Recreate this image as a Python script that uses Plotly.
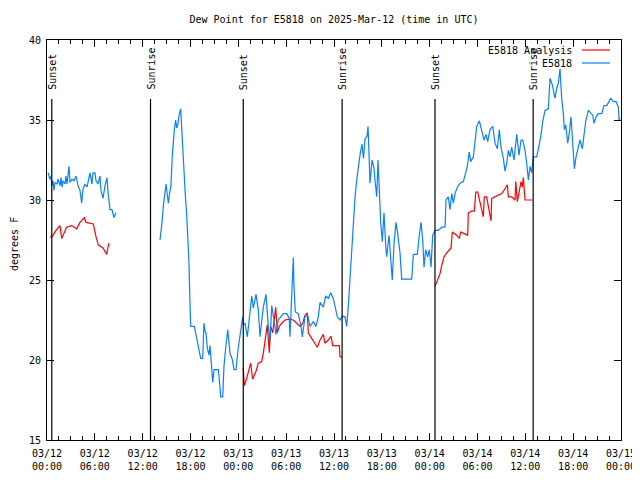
import pandas as pd
import plotly.graph_objects as go

BASE = pd.Timestamp("2025-03-12 00:00")

# E5818 observations: hours since 03/12 00:00 and dew point (F), in contiguous segments
obs_h1 = [0.13, 0.38, 0.50, 0.63, 0.75, 0.88, 1.00, 1.25, 1.38, 1.63, 1.76, 1.88, 2.01, 2.26, 2.38,
          2.51, 2.76, 2.88, 3.14, 3.39, 3.64, 3.89, 4.14, 4.35, 4.52, 4.77, 5.02, 5.27, 5.39, 5.64,
          5.77, 6.02, 6.15, 6.40, 6.65, 6.77, 7.02, 7.28, 7.53, 7.65, 7.90, 8.15, 8.40, 8.65]
obs_v1 = [31.7, 31.3, 31.5, 30.9, 31.2, 30.6, 31.1, 31.0, 31.3, 30.9, 31.4, 30.8, 31.2, 31.0, 31.5,
          31.0, 32.1, 31.1, 31.3, 31.2, 31.5, 30.9, 30.6, 29.8, 30.7, 31.0, 30.8, 31.3, 31.7, 31.0,
          31.7, 31.7, 31.2, 31.0, 31.5, 30.6, 30.1, 30.9, 31.4, 30.5, 29.4, 29.4, 28.9, 29.2]

obs_h2 = [14.17, 14.30, 14.43, 14.59, 14.74, 14.93, 15.05, 15.22, 15.37, 15.55, 15.72, 15.84, 15.97,
          16.14, 16.27, 16.40, 16.50, 16.60, 16.77, 16.90, 17.02, 17.19, 17.35, 17.52, 17.65, 17.81,
          17.94, 18.03, 18.48, 18.78, 19.07, 19.28, 19.53, 19.69, 19.82, 19.94, 20.11, 20.32, 20.45,
          20.66, 20.79, 20.95, 21.49, 21.70, 21.79, 22.04, 22.20, 22.42, 22.67, 22.96, 23.21, 23.46,
          23.71, 24.00, 24.34, 24.55, 24.65, 24.84, 25.13, 25.38, 25.46, 25.68, 25.88, 26.22, 26.51,
          26.72, 27.13, 27.47, 27.76, 27.97, 28.19, 28.51, 28.73, 29.01, 29.64, 30.07, 30.39, 30.48,
          30.70, 30.90, 30.98, 31.15, 31.52, 31.86, 32.03, 32.36, 32.70, 32.99, 33.41, 33.74, 34.03,
          34.25, 34.66, 34.96, 35.29, 35.59, 35.91, 36.21, 36.42, 36.75, 37.04, 37.38, 37.59, 37.80,
          38.01, 38.35, 38.64, 38.85, 39.01, 39.26, 39.51, 39.70, 39.89, 40.14, 40.27, 40.39, 40.52,
          40.77, 41.02, 41.14, 41.36, 41.52, 41.86, 42.06, 42.27, 42.49, 42.61, 42.90, 43.24, 43.31,
          43.53, 43.78, 43.99, 44.28, 44.49, 45.75, 45.95, 46.45, 46.70, 46.91, 47.13, 47.29, 47.50,
          47.75, 47.96, 48.17, 48.38, 48.67, 49.09, 49.51, 49.93, 50.05, 50.34, 50.55, 50.77, 50.97,
          51.18, 51.47, 51.81, 52.22, 52.52, 52.72, 52.97, 53.15, 53.48, 53.69, 53.90, 54.23, 54.53,
          54.82, 55.07, 55.28, 55.57, 55.91, 56.20, 56.49, 56.74, 56.95, 57.24, 57.45, 57.67, 57.87,
          58.08, 58.29, 58.58, 58.92, 59.21, 59.46, 59.67, 59.96, 60.17, 60.38, 60.59, 60.80, 61.00,
          61.43, 61.93, 62.18, 62.47, 62.88, 63.10, 63.39, 63.72, 63.94, 64.14, 64.35, 64.56, 64.77,
          64.89, 65.07, 65.32, 65.52, 65.73, 65.94, 66.15, 66.36, 66.65, 66.86, 67.15, 67.36, 67.57,
          67.90, 68.20, 68.45, 68.62, 68.87, 69.16, 69.58, 69.87, 70.21, 70.71, 71.04, 71.38, 71.67,
          71.75, 71.88]
obs_v2 = [27.5, 28.0, 28.6, 29.6, 30.3, 31.0, 30.5, 29.8, 30.4, 30.9, 32.8, 33.8, 34.4,
          35.0, 34.5, 34.7, 35.1, 35.4, 35.7, 34.3, 33.0, 31.7, 30.3, 29.1, 27.6, 26.1,
          23.4, 22.1, 22.1, 21.25, 20.6, 20.1, 20.1, 22.3, 21.8, 21.7, 20.75, 20.3, 20.9,
          19.6, 18.6, 19.4, 19.4, 18.3, 17.7, 17.7, 19.6, 20.8, 21.9, 20.4, 20.1, 19.4,
          19.4, 20.8, 22.1, 22.7, 22.2, 22.3, 21.45, 22.5, 22.8, 24.0, 23.25, 24.1, 23.1,
          21.45, 23.3, 24.1, 22.1, 21.1, 23.4, 22.3, 21.6, 22.5, 22.9, 22.9, 22.6, 21.45,
          24.8, 26.4, 24.6, 23.0, 22.9, 22.1, 21.45, 22.7, 22.8, 22.1, 22.4, 22.1, 22.7,
          23.6, 23.3, 24.0, 23.85, 24.2, 23.85, 23.1, 22.7, 22.5, 22.75, 22.7, 22.1, 23.4,
          25.3, 28.1, 30.2, 31.25, 31.9, 32.8, 33.5, 32.6, 33.8, 34.0, 34.6, 33.0, 31.05,
          32.5, 32.0, 31.25, 30.2, 32.5, 28.6, 27.4, 29.2, 27.1, 26.45, 27.8, 25.75, 25.0,
          27.3, 28.6, 27.9, 26.7, 25.06, 25.06, 26.6, 26.6, 27.8, 28.6, 27.5, 25.8, 26.9,
          26.45, 26.9, 25.8, 27.8, 28.1, 28.1, 28.3, 28.3, 30.0, 30.2, 29.4, 30.4, 29.8,
          30.4, 30.8, 31.05, 31.15, 31.7, 32.1, 33.0, 32.4, 32.7, 33.75, 34.6, 34.95, 34.4,
          33.75, 34.1, 33.65, 34.4, 34.6, 33.55, 33.2, 34.4, 33.3, 32.6, 31.8, 32.3, 33.1,
          32.7, 33.3, 32.5, 34.1, 32.8, 33.75, 33.75, 33.1, 32.3, 31.25, 32.1, 31.7, 32.7,
          32.7, 33.95, 34.9, 35.6, 35.7, 37.6, 37.2, 36.35, 37.0, 37.3, 38.2, 36.35, 35.4,
          34.4, 34.7, 33.55, 34.2, 35.2, 33.75, 31.95, 32.7, 33.3, 33.75, 33.2, 34.2, 34.9,
          35.6, 35.4, 35.3, 34.8, 35.2, 35.4, 35.4, 35.9, 35.9, 36.35, 36.15, 36.15, 35.8,
          35.0, 35.1]

# E5818 Analysis
ana_h1 = [0.38, 0.63, 1.13, 1.63, 1.84, 2.47, 3.10, 3.73, 4.14, 4.68, 4.89, 5.81, 6.15, 6.44,
          7.02, 7.49, 7.59, 7.78]
ana_v1 = [27.7, 27.7, 28.1, 28.4, 27.6, 28.3, 28.4, 28.2, 28.6, 28.9, 28.6, 28.5, 27.7, 27.2,
          27.0, 26.6, 26.9, 27.3]
ana_h2 = [24.62, 24.75, 25.05, 25.25, 25.55, 25.80, 26.22, 26.51, 26.93, 27.13, 27.35, 27.63,
          27.89, 28.06, 28.31, 28.48, 28.69, 28.89, 29.14, 29.44, 29.86, 30.39, 30.90, 31.32,
          31.74, 32.08, 32.36, 32.65, 32.78, 33.20, 33.91, 34.25, 34.66, 34.87, 35.29, 35.63,
          35.84, 36.67, 36.75, 36.97]
ana_v2 = [19.5, 18.4, 18.85, 19.3, 19.8, 18.8, 19.3, 19.8, 19.9, 20.4, 21.25, 22.2,
          20.45, 22.1, 21.7, 22.4, 23.3, 21.7, 22.1, 22.3, 22.5, 22.55, 22.5, 22.3,
          22.1, 22.3, 22.8, 22.95, 21.7, 21.35, 20.8, 21.25, 21.6, 21.05, 21.25, 21.5,
          20.9, 20.9, 20.2, 20.2]
ana_h3 = [48.67, 49.09, 49.30, 49.51, 49.80, 50.14, 50.68, 50.84, 51.39, 51.72, 51.90, 52.35,
          52.77, 52.85, 53.27, 53.60, 53.78, 54.03, 54.32, 54.57, 54.73, 54.86, 55.16, 55.36,
          55.57, 55.70, 55.78, 56.20, 56.61, 57.04, 57.45, 57.74, 57.87, 58.29, 58.71, 58.80,
          59.00, 59.21, 59.46, 59.62, 59.75, 59.96, 60.38, 60.93]
ana_v3 = [24.6, 25.1, 25.4, 25.9, 26.45, 26.7, 27.0, 28.0, 27.8, 27.6, 28.0, 27.9,
          27.8, 29.2, 29.3, 29.3, 30.5, 30.5, 29.9, 29.3, 28.95, 30.2, 30.2, 29.6,
          28.95, 28.7, 30.1, 30.2, 30.3, 30.4, 30.7, 30.95, 30.2, 30.2, 30.0, 31.15,
          29.9, 30.6, 31.15, 30.8, 31.4, 30.0, 30.0, 30.0]

sun_times = ["2025-03-12 00:36", "2025-03-12 12:59", "2025-03-13 00:37",
             "2025-03-13 13:01", "2025-03-14 00:40", "2025-03-14 12:59"]
sun_labels = ["Sunset", "Sunrise", "Sunset", "Sunrise", "Sunset", "Sunrise"]

tick_times = pd.date_range("2025-03-12 00:00", "2025-03-15 00:00", freq="6h")
tick_text = [t.strftime("%m/%d<br>%H:%M") for t in tick_times]


def join(segments):
    xs, ys = [], []
    for hrs, vals in segments:
        if xs:
            xs.append(None)
            ys.append(None)
        xs += [BASE + pd.Timedelta(hours=h) for h in hrs]
        ys += vals
    return xs, ys


FONT = "DejaVu Sans Mono"
RED = "#ff0000"
BLUE = "#0a80ff"

# figure is drawn inside the page's 8px body margin
W, H = 632, 472
ML, MR, MT, MB = 39, 19, 32, 40
PW = W - ML - MR

ax, ay = join([(ana_h1, ana_v1), (ana_h2, ana_v2), (ana_h3, ana_v3)])
ox, oy = join([(obs_h1, obs_v1), (obs_h2, obs_v2)])

fig = go.Figure()
fig.add_trace(go.Scatter(x=ax, y=ay, mode="lines", name="E5818 Analysis",
                         line=dict(color=RED, width=1.2), connectgaps=False, showlegend=False))
fig.add_trace(go.Scatter(x=ox, y=oy, mode="lines", name="E5818",
                         line=dict(color=BLUE, width=1.2), connectgaps=False, showlegend=False))

shapes = []
annotations = []
for t, lab in zip(sun_times, sun_labels):
    shapes.append(dict(type="line", xref="x", yref="paper", x0=t, x1=t, y0=0, y1=0.8525,
                       line=dict(color="black", width=1.2)))
    annotations.append(dict(x=t, y=0.87, xref="x", yref="paper", text=lab, textangle=-90,
                            showarrow=False, xanchor="center", yanchor="bottom",
                            font=dict(family=FONT, size=10, color="black")))

# legend (gnuplot style: text right-aligned, sample to the right)
for i, (name, col) in enumerate([("E5818 Analysis", RED), ("E5818", BLUE)]):
    ypos = 1 - (10 + 13 * i) / 400
    annotations.append(dict(x=(574 - 47) / PW, y=ypos, xref="paper", yref="paper", text=name,
                            showarrow=False, xanchor="right", yanchor="middle",
                            font=dict(family=FONT, size=10, color="black")))
    shapes.append(dict(type="line", xref="paper", yref="paper",
                       x0=(582 - 47) / PW, x1=(610 - 47) / PW, y0=ypos, y1=ypos,
                       line=dict(color=col, width=1.2)))

annotations.append(dict(x=0, y=0.49, xref="paper", yref="paper", xshift=-33, text="degrees F",
                        textangle=-90, showarrow=False, xanchor="center", yanchor="middle",
                        font=dict(family=FONT, size=10, color="black")))

fig.update_layout(
    width=W, height=H,
    margin=dict(l=ML, r=MR, t=MT, b=MB, autoexpand=False),
    paper_bgcolor="white", plot_bgcolor="white",
    font=dict(family=FONT, size=10, color="black"),
    title=dict(text="Dew Point for E5818 on 2025-Mar-12 (time in UTC)", x=0.5, xref="paper",
               xanchor="center", y=1 - 11 / H, yref="container", yanchor="middle",
               font=dict(family=FONT, size=10, color="black")),
    shapes=shapes, annotations=annotations,
    xaxis=dict(type="date", range=[tick_times[0], tick_times[-1]], tickvals=list(tick_times),
               ticktext=tick_text, ticks="inside", ticklen=7, tickcolor="black",
               ticklabelstandoff=4,
               showline=True, linecolor="black", linewidth=1, mirror="ticks",
               showgrid=False, zeroline=False,
               minor=dict(dtick=1.5 * 3600 * 1000, ticks="inside", ticklen=4, tickcolor="black",
                          showgrid=False),
               tickfont=dict(family=FONT, size=10, color="black")),
    yaxis=dict(range=[15, 40], tickvals=[15, 20, 25, 30, 35, 40], ticks="inside", ticklen=7,
               tickcolor="black", showline=True, linecolor="black", linewidth=1, mirror="ticks",
               ticklabelstandoff=3,
               showgrid=False, zeroline=False,
               tickfont=dict(family=FONT, size=10, color="black")),
)

fig.write_html("out.html")
